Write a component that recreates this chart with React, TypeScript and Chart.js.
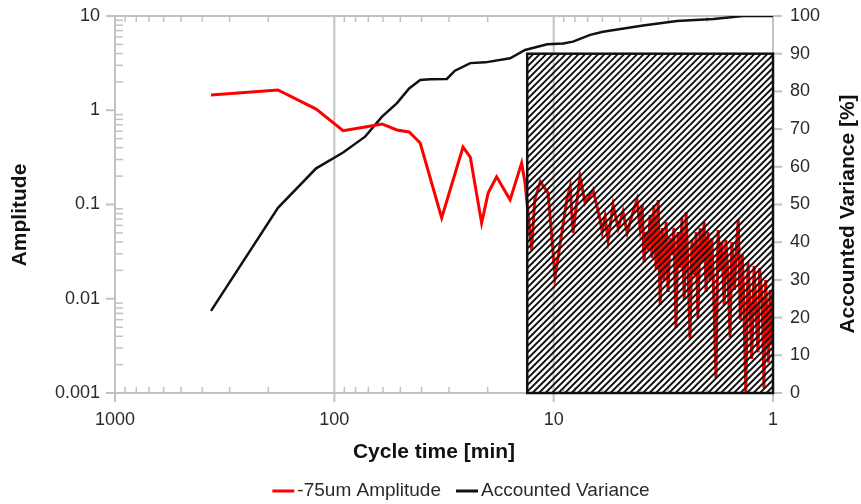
import React, { useEffect, useRef } from 'react';
import { Chart, registerables } from 'chart.js';

Chart.register(...registerables);

// ---- data ----
const cycleTimeRed = [365, 180.7, 121, 91.2, 72.4, 60.6, 51.8, 45.6, 40.6, 32.4, 25.9, 24.0, 21.3, 19.9, 18.2, 15.8, 14.0, 13.5, 12.6, 12.2, 11.5, 10.6, 9.85, 9.18, 8.71, 8.41, 8.16, 7.59, 7.19, 6.61, 6.14, 6.01, 5.83, 5.65, 5.36, 5.08, 4.83, 4.62, 4.39, 4.17,
  4.04, 3.95, 3.87, 3.79, 3.71, 3.63, 3.56, 3.49, 3.41, 3.34, 3.27, 3.20, 3.14, 3.07, 3.01, 2.95, 2.89, 2.83, 2.77, 2.71, 2.65, 2.60, 2.54, 2.49, 2.44, 2.39, 2.34, 2.29, 2.24, 2.20, 2.15, 2.11, 2.06, 2.02, 1.98, 1.94, 1.90, 1.86, 1.82, 1.78, 1.74, 1.71, 1.67, 1.64, 1.60, 1.57, 1.54, 1.50, 1.47, 1.44, 1.41, 1.38, 1.36, 1.33, 1.30, 1.27, 1.25, 1.22, 1.19, 1.17, 1.15, 1.12, 1.10, 1.08, 1.05, 1.03, 1.01, 1.00];
const amplitude = [1.45, 1.64, 1.03, 0.607, 0.664, 0.715, 0.617, 0.588, 0.449, 0.0719, 0.407, 0.319, 0.0637, 0.132, 0.197, 0.112, 0.275, 0.169, 0.0329, 0.112, 0.175, 0.132, 0.0171, 0.0499, 0.112, 0.155, 0.0499, 0.197, 0.104, 0.143, 0.0685, 0.0514, 0.0743, 0.042, 0.0989, 0.0563, 0.0839, 0.0499, 0.0774, 0.112,
  0.0577, 0.0988, 0.0245, 0.0511, 0.0329, 0.0774, 0.0271, 0.0988, 0.0202, 0.1116, 0.0086, 0.0563, 0.0158, 0.0652, 0.0118, 0.0441, 0.0291, 0.0563, 0.0049, 0.0511, 0.0212, 0.0719, 0.0097, 0.0832, 0.0202, 0.0038, 0.0420, 0.0179, 0.0511, 0.0062, 0.0563, 0.0245, 0.0652, 0.0118, 0.0511, 0.0158, 0.0441, 0.0097, 0.00144, 0.0536, 0.0202, 0.0400, 0.0086, 0.0420, 0.0151, 0.0039, 0.0400, 0.0124, 0.0346, 0.0685, 0.0060, 0.0291, 0.0097, 0.001, 0.0245, 0.0076, 0.0023, 0.0223, 0.0062, 0.0027, 0.0212, 0.0097, 0.00113, 0.0158, 0.0021, 0.0124, 0.0032, 0.0097];

const cycleTimeBlack = [365, 180.7, 121, 91.2, 72.4, 60.6, 51.8, 45.6, 40.6, 36.6, 30.7, 28.2, 24.0, 20.5, 15.8, 13.5, 10.7, 9.06, 8.16, 6.82, 5.96, 3.91, 2.74, 1.87, 1.37, 1.0];
const accountedVariance = [21.8, 49.1, 59.6, 63.8, 68, 73.3, 76.9, 80.8, 83, 83.2, 83.3, 85.5, 87.5, 87.7, 88.8, 91, 92.5, 92.7, 93.2, 95, 95.8, 97.5, 98.7, 99.2, 100, 100];

const xTickValues = [1, 10, 100, 1000];
const xTickLabels = ['1', '10', '100', '1000'];
const yTickValues = [0.001, 0.01, 0.1, 1, 10];
const yTickLabels = ['0.001', '0.01', '0.1', '1', '10'];
const y1TickValues = [0, 10, 20, 30, 40, 50, 60, 70, 80, 90, 100];

// hatched region (cycle time from..to, accounted variance low..high)
const hatchCycleFrom = 13.2;
const hatchCycleTo = 1;
const hatchVarLow = 0;
const hatchVarHigh = 90;

const seriesNames = ['-75um Amplitude', 'Accounted Variance'];
const seriesColors = ['#ff0000', '#111111'];
const titles = { x: 'Cycle time [min]', y: 'Amplitude', y1: 'Accounted Variance [%]' };

const FONT = '"Liberation Sans", Arial, Helvetica, sans-serif';
const GRID = '#c2c2c2';
const TEXT = '#2a2a2a';

const decorPlugin = {
  id: 'decor',
  beforeDatasetsDraw(chart: any) {
    const { ctx, chartArea: a, scales } = chart;
    const x = scales.x, y = scales.y, y1 = scales.y1;
    const line = (x0: number, y0: number, x1: number, y1p: number) => {
      ctx.beginPath();
      ctx.moveTo(x0, y0);
      ctx.lineTo(x1, y1p);
      ctx.stroke();
    };
    ctx.save();
    ctx.strokeStyle = GRID;
    ctx.lineWidth = 2;
    for (const v of xTickValues) {
      const px = x.getPixelForValue(v);
      if (px > a.left + 2 && px < a.right - 2) line(px, a.top, px, a.bottom);
    }
    ctx.strokeRect(a.left, a.top, a.right - a.left, a.bottom - a.top);
    for (const v of xTickValues) {
      const px = x.getPixelForValue(v);
      line(px, a.bottom, px, a.bottom + 9);
    }
    for (const v of yTickValues) {
      const py = y.getPixelForValue(v);
      line(a.left - 9, py, a.left, py);
    }
    for (const v of y1TickValues) {
      const py = y1.getPixelForValue(v);
      line(a.right, py, a.right + 9, py);
    }
    ctx.lineWidth = 1.5;
    for (let i = 0; i < xTickValues.length - 1; i++) {
      for (let k = 2; k <= 9; k++) {
        const px = x.getPixelForValue(xTickValues[i] * k);
        line(px, a.bottom, px, a.bottom - 6);
        line(px, a.top, px, a.top + 6);
      }
    }
    for (let i = 0; i < yTickValues.length - 1; i++) {
      for (let k = 2; k <= 9; k++) {
        const py = y.getPixelForValue(yTickValues[i] * k);
        line(a.left, py, a.left + 8, py);
      }
    }
    ctx.restore();
  },
  afterDatasetsDraw(chart: any) {
    const { ctx, scales } = chart;
    const x = scales.x, y1 = scales.y1;
    const l = x.getPixelForValue(hatchCycleFrom);
    const r = x.getPixelForValue(hatchCycleTo);
    const t = y1.getPixelForValue(hatchVarHigh);
    const b = y1.getPixelForValue(hatchVarLow);
    const h = b - t;
    ctx.save();
    ctx.beginPath();
    ctx.rect(l, t, r - l, h);
    ctx.clip();
    ctx.strokeStyle = '#111';
    ctx.lineWidth = 1.9;
    ctx.beginPath();
    for (let sx = l - h; sx < r + 2; sx += 6.5) {
      ctx.moveTo(sx, b);
      ctx.lineTo(sx + h, t);
    }
    ctx.stroke();
    ctx.restore();
    ctx.save();
    ctx.strokeStyle = '#111';
    ctx.lineWidth = 2.5;
    ctx.strokeRect(l, t, r - l, h);
    ctx.restore();
  },
  afterDraw(chart: any) {
    const { ctx } = chart;
    ctx.save();
    ctx.fillStyle = '#111';
    ctx.font = 'bold 21px ' + FONT;
    ctx.textAlign = 'center';
    ctx.textBaseline = 'middle';
    ctx.fillText(titles.x, 434, 452);
    ctx.save();
    ctx.translate(20, 215);
    ctx.rotate(-Math.PI / 2);
    ctx.fillText(titles.y, 0, 0);
    ctx.restore();
    ctx.save();
    ctx.translate(848, 214);
    ctx.rotate(-Math.PI / 2);
    ctx.fillText(titles.y1, 0, 0);
    ctx.restore();

    // legend
    ctx.font = '19px ' + FONT;
    ctx.textAlign = 'left';
    const boxW = 22, gap = 3, spacing = 15;
    const widths = seriesNames.map((n) => boxW + gap + ctx.measureText(n).width);
    const total = widths.reduce((s, w) => s + w, 0) + spacing * (widths.length - 1);
    let cx = 461 - total / 2;
    const ly = 491;
    seriesNames.forEach((n, i) => {
      ctx.fillStyle = seriesColors[i];
      ctx.fillRect(cx, ly - 1.5, boxW, 3);
      ctx.fillStyle = TEXT;
      ctx.fillText(n, cx + boxW + gap, ly);
      cx += widths[i] + spacing;
    });
    ctx.restore();
  },
};

const noVPad = (s: any) => { s.paddingTop = 0; s.paddingBottom = 0; };

export default function App() {
  const ref = useRef<HTMLCanvasElement>(null);
  useEffect(() => {
    Chart.defaults.font.family = FONT;
    const chart = new Chart(ref.current as HTMLCanvasElement, {
      type: 'line',
      data: {
        datasets: [
          {
            label: seriesNames[0],
            data: cycleTimeRed.map((c, i) => ({ x: c, y: amplitude[i] })),
            borderColor: seriesColors[0],
            backgroundColor: seriesColors[0],
            borderWidth: 3,
            pointRadius: 0,
            tension: 0,
            yAxisID: 'y',
          },
          {
            label: seriesNames[1],
            data: cycleTimeBlack.map((c, i) => ({ x: c, y: accountedVariance[i] })),
            borderColor: seriesColors[1],
            backgroundColor: seriesColors[1],
            borderWidth: 2.5,
            pointRadius: 0,
            tension: 0,
            yAxisID: 'y1',
          },
        ],
      },
      options: {
        responsive: false,
        animation: false,
        events: [],
        layout: { padding: { top: 16, left: 0, right: 0, bottom: 36 } },
        scales: {
          x: {
            type: 'logarithmic',
            reverse: true,
            min: 1,
            max: 1000,
            grid: { display: false, drawTicks: false },
            border: { display: false },
            afterBuildTicks: (s: any) => { s.ticks = xTickValues.map((v) => ({ value: v })); },
            afterFit: (s: any) => { s.height = 75; s.paddingLeft = 0; s.paddingRight = 0; },
            ticks: {
              autoSkip: false,
              maxRotation: 0,
              padding: 16,
              color: TEXT,
              font: { size: 18 },
              callback: (v: any) => xTickLabels[xTickValues.indexOf(Number(v))] ?? '',
            },
          },
          y: {
            type: 'logarithmic',
            position: 'left',
            min: 0.001,
            max: 10,
            grid: { display: false, drawTicks: false },
            border: { display: false },
            afterBuildTicks: (s: any) => { s.ticks = yTickValues.map((v) => ({ value: v })); },
            afterFit: (s: any) => { s.width = 115; noVPad(s); },
            ticks: {
              autoSkip: false,
              padding: 15,
              color: TEXT,
              font: { size: 18 },
              callback: (v: any) => {
                const i = yTickValues.findIndex((t) => Math.abs(t - Number(v)) / t < 1e-6);
                return i >= 0 ? yTickLabels[i] : '';
              },
            },
          },
          y1: {
            type: 'linear',
            position: 'right',
            min: 0,
            max: 100,
            grid: { display: false, drawTicks: false },
            border: { display: false },
            afterBuildTicks: (s: any) => { s.ticks = y1TickValues.map((v) => ({ value: v })); },
            afterFit: (s: any) => { s.width = 88; noVPad(s); },
            ticks: {
              autoSkip: false,
              padding: 17,
              color: TEXT,
              font: { size: 18 },
            },
          },
        },
        plugins: {
          tooltip: { enabled: false },
          legend: { display: false },
        },
      },
      plugins: [decorPlugin],
    } as any);
    return () => chart.destroy();
  }, []);
  return (
    <div style={{ position: 'fixed', left: 0, top: 0, width: 861, height: 504, background: '#fff' }}>
      <canvas ref={ref} width={861} height={504} style={{ display: 'block' }} />
    </div>
  );
}
